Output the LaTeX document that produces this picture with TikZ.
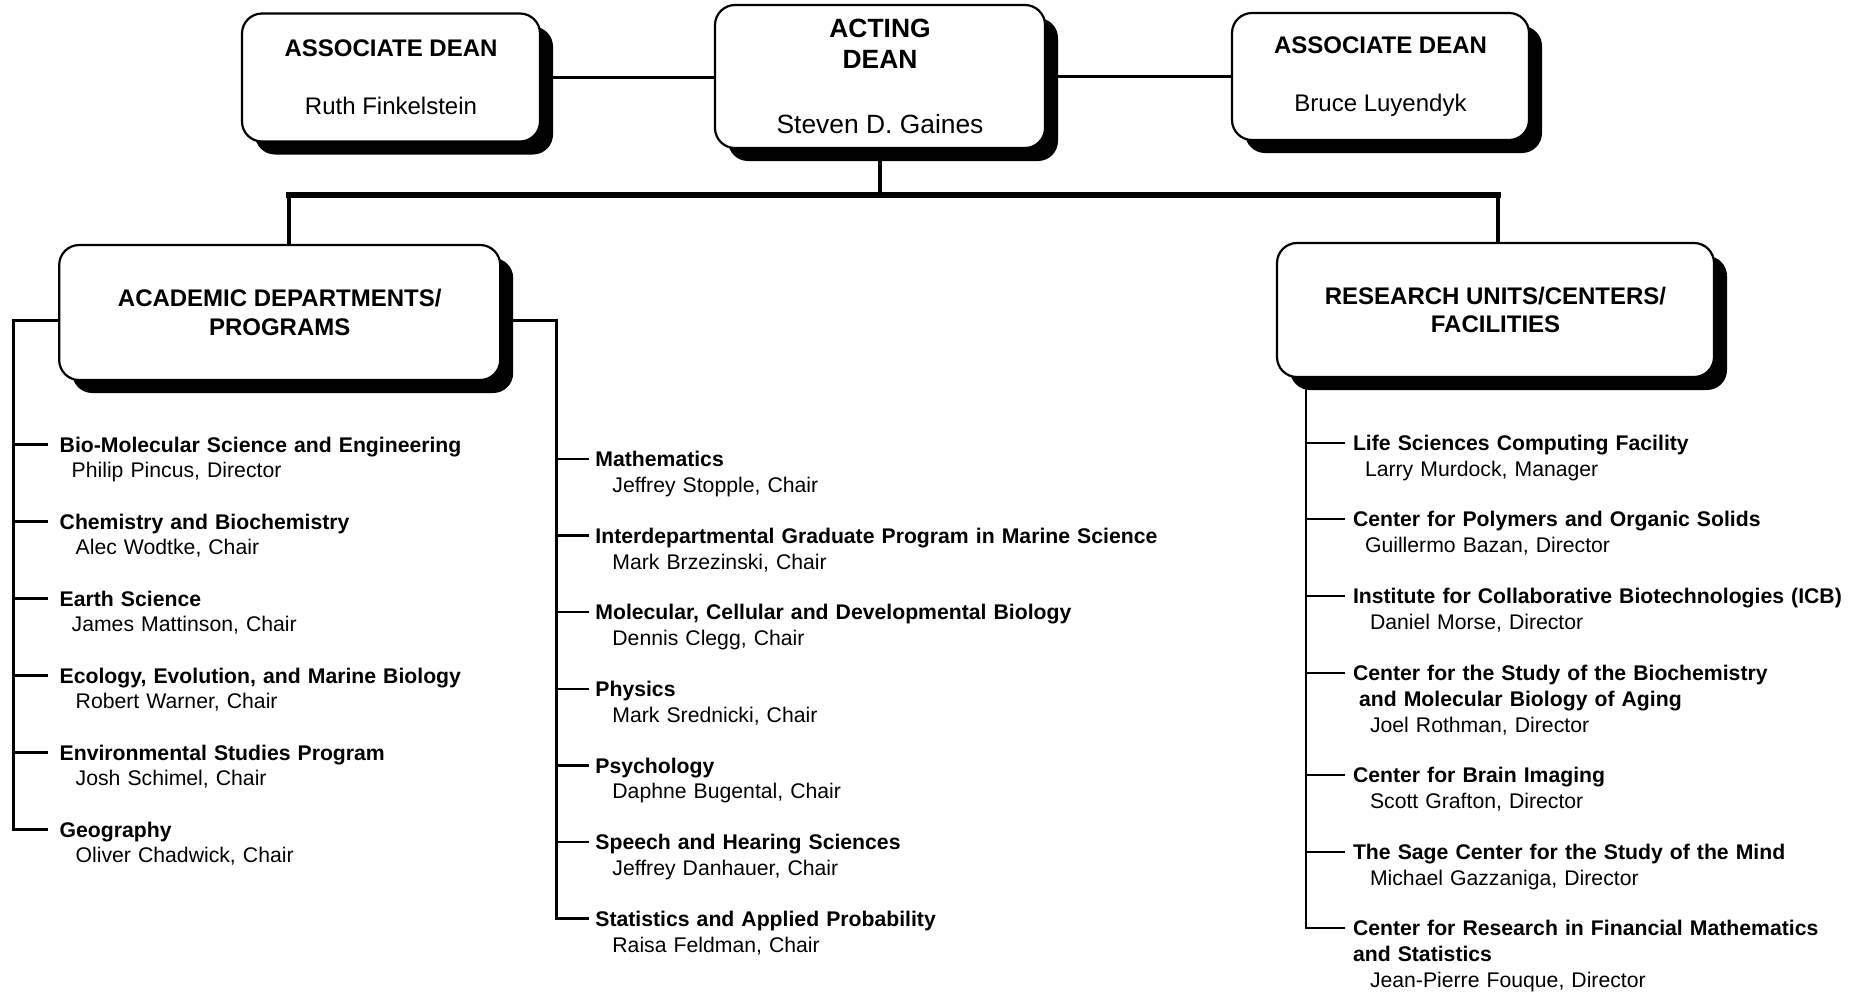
\documentclass[tikz,border=0pt]{standalone}
\usepackage{fontspec}
\setmainfont{Liberation Sans}
\usetikzlibrary{shadows}

\begin{document}
\begin{tikzpicture}[x=0.5pt, y=0.5pt,
    office/.style={draw, line width=1.1pt, rounded corners=10pt, fill=white, align=center, inner sep=0pt,
      drop shadow={shadow xshift=6.5pt, shadow yshift=-6.5pt, fill=black, opacity=1},
      font=\fontsize{12}{14.2}\selectfont},
    unitlabel/.style={anchor=base west, inner xsep=#1, inner ysep=0pt, text width=310pt, align=left,
      font=\fontsize{10.6}{12.9}\selectfont},
    unitlabel/.default=3.5pt,
    link/.style={line width=1.2pt},
    drop/.style={line width=1.8pt},
    bus/.style={line width=2.6pt, line cap=rect}
    ]
    \useasboundingbox (0,0) rectangle (1861,-993);

    \node[office, minimum width=149pt, minimum height=64pt] (assoc_left) at (391,-77.5)
      {\textbf{ASSOCIATE DEAN}\\[14.8pt]Ruth Finkelstein};
    \node[office, minimum width=165pt, minimum height=71.5pt, font=\fontsize{13.2}{15.8}\selectfont] (dean) at (880,-76.5)
      {\textbf{ACTING}\\\textbf{DEAN}\\[16.7pt]Steven D. Gaines};
    \node[office, minimum width=148.5pt, minimum height=63.5pt] (assoc_right) at (1380.5,-76.5)
      {\textbf{ASSOCIATE DEAN}\\[14.8pt]Bruce Luyendyk};
    \node[office, minimum width=220.5pt, minimum height=67.5pt] (academic) at (279.7,-312.5)
      {\textbf{ACADEMIC DEPARTMENTS/}\\\textbf{PROGRAMS}};
    \node[office, minimum width=218.5pt, minimum height=67pt] (research) at (1495.5,-310)
      {\textbf{RESEARCH UNITS/CENTERS/}\\\textbf{FACILITIES}};

    \draw[link] (assoc_left.east) -- (assoc_left.east -| dean.west);
    \draw[link] (dean.east |- assoc_right.west) -- (assoc_right.west);

    \coordinate (bus) at (880,-195);
    \coordinate (bus_left) at (289,-195);
    \coordinate (bus_right) at (1498,-195);
    \draw[bus] (bus_left) -- (bus_right);
    \draw[drop] (dean) -- (bus);
    \foreach \grp/\joint in {academic/bus_left, research/bus_right} {
      \draw[drop] (\grp.north -| \joint) -- (\joint);
    };

    % departments
    \coordinate (left_bar) at (13.5,0);
    \foreach \unitname/\pad/\chair [count=\i] in {
        {Bio-Molecular Science and Engineering}/6pt/{Philip Pincus, Director},
        {Chemistry and Biochemistry}/8pt/{Alec Wodtke, Chair},
        {Earth Science}/6pt/{James Mattinson, Chair},
        {Ecology, Evolution, and Marine Biology}/8pt/{Robert Warner, Chair},
        {Environmental Studies Program}/8pt/{Josh Schimel, Chair},
        {Geography}/8pt/{Oliver Chadwick, Chair}} {
      \node[unitlabel=5.75pt] (a\i) at (47.8,{-452-77*(\i-1)}) {\textbf{\unitname}\\\hspace*{\pad}\chair};
      \coordinate (ta\i) at ([yshift=3.8pt]a\i.base west);
    };
    \draw[link] ([yshift=-4pt]academic.west) -| (left_bar |- ta6) -- (ta6);
    \foreach \i in {1,...,5} {
      \draw[link] (left_bar |- ta\i) -- (ta\i);
    };

    \coordinate (mid_bar) at (556.5,0);
    \foreach \unitname/\pad/\chair [count=\i] in {
        {Mathematics}/8.5pt/{Jeffrey Stopple, Chair},
        {Interdepartmental Graduate Program in Marine Science}/8.5pt/{Mark Brzezinski, Chair},
        {Molecular, Cellular and Developmental Biology}/8.5pt/{Dennis Clegg, Chair},
        {Physics}/8.5pt/{Mark Srednicki, Chair},
        {Psychology}/8.5pt/{Daphne Bugental, Chair},
        {Speech and Hearing Sciences}/8.5pt/{Jeffrey Danhauer, Chair},
        {Statistics and Applied Probability}/8.5pt/{Raisa Feldman, Chair}} {
      \node[unitlabel=3pt] (m\i) at (589,{-466.6-76.6*(\i-1)}) {\textbf{\unitname}\\\hspace*{\pad}\chair};
      \coordinate (tm\i) at ([yshift=3.8pt]m\i.base west);
    };
    \draw[link] ([yshift=-4pt]academic.east) -| (mid_bar |- tm7) -- (tm7);
    \foreach \i in {1,...,6} {
      \draw[link] (mid_bar |- tm\i) -- (tm\i);
    };

    % research units
    \coordinate (right_bar) at (1306,0);
    \foreach \y/\unitname/\pad/\chair [count=\i] in {
        443/{Life Sciences Computing Facility}/6pt/{Larry Murdock, Manager},
        519/{Center for Polymers and Organic Solids}/6pt/{Guillermo Bazan, Director},
        596/{Institute for Collaborative Biotechnologies (ICB)}/8.5pt/{Daniel Morse, Director},
        673/{Center for the Study of the Biochemistry\\\hspace*{3pt}and Molecular Biology of Aging}/8.5pt/{Joel Rothman, Director},
        775/{Center for Brain Imaging}/8.5pt/{Scott Grafton, Director},
        852/{The Sage Center for the Study of the Mind}/8.5pt/{Michael Gazzaniga, Director},
        928/{Center for Research in Financial Mathematics\\and Statistics}/8.5pt/{Jean-Pierre Fouque, Director}} {
      \node[unitlabel=3.8pt] (r\i) at (1345,{-\y-7.6}) {\textbf{\unitname}\\\hspace*{\pad}\chair};
      \coordinate (tr\i) at ([yshift=3.8pt]r\i.base west);
    };
    \draw[link] (right_bar |- research.south) -- (right_bar |- tr7) -- (tr7);
    \foreach \i in {1,...,6} {
      \draw[link] (right_bar |- tr\i) -- (tr\i);
    };
\end{tikzpicture}
\end{document}
